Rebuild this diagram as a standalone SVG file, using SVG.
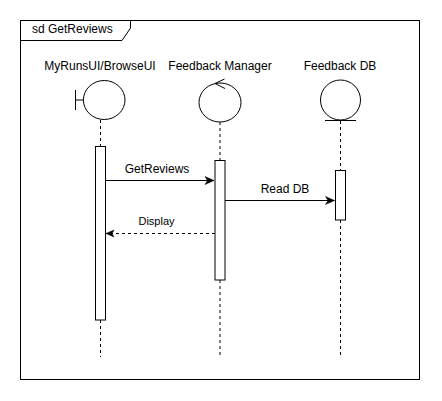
<svg xmlns="http://www.w3.org/2000/svg" width="442" height="401" viewBox="0 0 442 401">
<style>
  .ln{fill:none;stroke:#000;stroke-width:1}
  .dash{fill:none;stroke:#000;stroke-width:1;stroke-dasharray:3 3}
  .bar{fill:#fff;stroke:#000;stroke-width:1}
  .shape{fill:#fff;stroke:#000;stroke-width:1}
  .t{font-family:"Liberation Sans",Arial,sans-serif;font-size:12px;fill:#000}
  .ts{font-family:"Liberation Sans",Arial,sans-serif;font-size:11px;fill:#000}
</style>
<defs>
  <marker id="blk" markerUnits="userSpaceOnUse" markerWidth="12" markerHeight="12" viewBox="-10 -6 12 12" refX="0" refY="0" orient="auto">
    <path d="M0,0 L-9,-4 L-6.5,0 L-9,4 Z" fill="#000" stroke="#000" stroke-width="0.5"/>
  </marker>
  <marker id="blks" markerUnits="userSpaceOnUse" markerWidth="12" markerHeight="12" viewBox="-10 -6 12 12" refX="0" refY="0" orient="auto">
    <path d="M0,0 L-8,-3.5 L-6,0 L-8,3.5 Z" fill="#000" stroke="#000" stroke-width="0.5"/>
  </marker>
</defs>
<rect width="442" height="401" fill="#fff"/>
<g id="frame">
  <rect class="ln" x="20.5" y="20.5" width="399" height="359"/>
  <path class="ln" d="M20.5,40.5 H122 L130.5,28 V20.5"/>
  <text class="t" x="32" y="33">sd GetReviews</text>
</g>
<g id="lifeline-ui">
  <text class="t" x="100" y="70" text-anchor="middle">MyRunsUI/BrowseUI</text>
  <path class="ln" d="M75.5,90 V110 M75.5,100 H84"/>
  <ellipse class="shape" cx="104.2" cy="100" rx="20.8" ry="19.5"/>
  <path class="dash" d="M100.5,120 V146 M100.5,320 V357"/>
  <rect class="bar" x="95.5" y="146.5" width="10" height="173.5"/>
</g>
<g id="lifeline-manager">
  <text class="t" x="220" y="70" text-anchor="middle">Feedback Manager</text>
  <ellipse class="shape" cx="220" cy="102.5" rx="21" ry="19.5"/>
  <path class="ln" d="M224.5,79 L215,83.5 L225,88.5"/>
  <path class="dash" d="M220,122 V160 M220,280 V357"/>
  <rect class="bar" x="215" y="160.5" width="10" height="119.5"/>
</g>
<g id="lifeline-db">
  <text class="t" x="340" y="70" text-anchor="middle">Feedback DB</text>
  <circle class="shape" cx="340.5" cy="100" r="20"/>
  <path class="ln" d="M325,120.5 H356"/>
  <path class="dash" d="M340.5,121 V170 M340.5,220 V357"/>
  <rect class="bar" x="335.5" y="170.5" width="10" height="49.5"/>
</g>
<g id="connectors">
  <path class="ln" d="M105.5,180.5 H214" marker-end="url(#blk)"/>
  <text class="t" x="157" y="172.5" text-anchor="middle">GetReviews</text>
  <path class="ln" d="M225,200.5 H334.5" marker-end="url(#blk)"/>
  <text class="t" x="285" y="192.5" text-anchor="middle">Read DB</text>
  <path class="dash" d="M215,233.5 H106" marker-end="url(#blks)"/>
  <text class="ts" x="156.5" y="224.5" text-anchor="middle">Display</text>
</g>
</svg>
